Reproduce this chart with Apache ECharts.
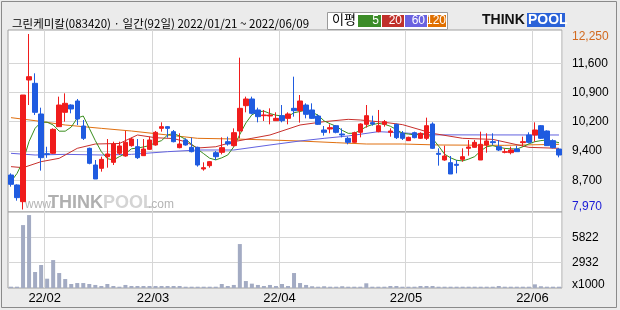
<!DOCTYPE html>
<html><head><meta charset="utf-8">
<script src="https://cdn.jsdelivr.net/npm/echarts@6/dist/echarts.min.js"></script>
<style>html,body{margin:0;padding:0;background:#ebebeb}#c{width:620px;height:310px}</style>
</head><body><div id="c"></div>
<script>
// ---- data ----
const dates = ['01/21','01/24','01/25','01/26','01/27','01/28',
'02/03','02/04','02/07','02/08','02/09','02/10','02/11','02/14','02/15','02/16','02/17','02/18','02/21','02/22','02/23','02/24','02/25','02/28',
'03/02','03/03','03/04','03/07','03/08','03/10','03/11','03/14','03/15','03/16','03/17','03/18','03/21','03/22','03/23','03/24','03/25','03/28','03/29','03/30','03/31',
'04/01','04/04','04/05','04/06','04/07','04/08','04/11','04/12','04/13','04/14','04/15','04/18','04/19','04/20','04/21','04/22','04/25','04/26','04/27','04/28','04/29',
'05/02','05/03','05/04','05/06','05/09','05/10','05/11','05/12','05/13','05/16','05/17','05/18','05/19','05/20','05/23','05/24','05/25','05/26','05/27','05/30','05/31',
'06/02','06/03','06/07','06/08','06/09'];
const opens = [8811,8568,8161,11128,11047,10299,9332,9340,9990,10340,10518,10616,10006,9462,9055,8974,9258,9120,9340,9275,
9527,9502,9283,9437,9543,9949,9990,9868,9478,9665,9486,9486,8958,9039,9356,9364,9624,9527,9884,10502,
10665,10397,10258,10250,10136,10258,10193,10437,10380,10518,10397,10250,9909,9933,10014,9811,9706,9608,9852,10047,
10088,9868,10047,9852,10047,9827,9649,9844,9706,9706,10055,9340,9177,9112,9072,9193,9462,9486,9177,9543,
9624,9502,9364,9356,9445,9600,9787,9787,10014,9884,9649,9445];
const closes = [8584,8259,10762,11209,10340,9234,9310,9925,10518,10559,10421,10177,9706,9096,8714,9193,9324,9567,9519,9608,
9689,9234,9445,9665,9852,9990,9949,9624,9567,9543,9380,9055,8990,9137,9258,9478,9567,9844,10437,10665,
10315,10234,10275,10275,10193,10136,10299,10380,10616,10291,10193,10047,9852,9966,9852,9787,9608,9844,10055,10258,
10055,10014,10112,9884,9722,9706,9730,9722,9827,10014,9462,9315,9275,8836,9047,9258,9494,9608,9559,9641,
9600,9421,9380,9421,9380,9624,9608,9909,9706,9527,9478,9299];
const lows = [8527,8185,7970,10518,10275,8917,9230,9324,9990,10112,10316,10031,9665,9072,8714,8893,8990,9055,9299,9258,
9502,9202,9275,9421,9527,9868,9722,9608,9462,9527,9364,9015,8917,8990,9177,9315,9527,9502,9706,10340,
10291,10096,10128,10047,10128,10096,10047,10234,10088,10193,10177,10031,9771,9828,9828,9730,9559,9600,9730,9966,
10014,9852,9990,9746,9689,9665,9641,9706,9689,9665,9445,9039,9160,8836,8852,9137,9283,9478,9177,9356,
9543,9397,9340,9315,9372,9502,9583,9624,9689,9519,9462,9242];
const highs = [8852,8584,10762,12250,11291,10453,9500,9949,10722,10803,10535,10665,10153,9478,9177,9258,9689,9624,9624,9885,
9722,9689,9689,9746,9885,10096,10006,9909,9828,9706,9722,9502,9120,9153,9397,9730,9746,9949,11673,10722,
10722,10453,10397,10437,10340,10518,10340,11209,10762,10559,10559,10291,10006,10047,10031,9949,9746,9868,10071,10518,
10258,10397,10153,9949,10063,9884,9746,9868,9852,10210,10096,9462,9527,9275,9177,9462,9665,9665,9868,9828,
9828,9665,9462,9502,9527,9746,9852,10096,10030,9900,9681,9462];
const volumes = [150,150,7230,8380,1840,2640,1070,3210,1720,1030,460,570,570,460,350,230,460,230,150,350,
230,230,230,230,230,230,230,230,230,150,150,150,150,150,150,460,230,350,5050,800,
500,350,230,350,230,460,230,1720,570,350,200,150,200,150,150,200,150,150,150,540,
150,150,150,230,230,150,150,150,230,230,230,150,150,150,150,150,150,150,150,150,
150,230,150,150,150,150,150,420,200,150,150,150];
const ma5 = [8650,8850,9150,9630,9950,10100,10100,10031,9880,9880,9980,10200,10250,9950,9650,9380,9210,9177,9260,9330,
9450,9470,9495,9530,9600,9650,9787,9827,9760,9680,9560,9440,9330,9220,9180,9230,9300,9500,9800,10080,
10280,10350,10370,10310,10270,10250,10240,10330,10360,10397,10340,10270,10130,10060,10000,9900,9827,9830,9900,9990,
10040,10070,10050,10000,9920,9830,9810,9790,9800,9827,9700,9520,9320,9230,9170,9155,9200,9260,9400,9500,
9527,9490,9460,9450,9445,9500,9570,9624,9650,9665,9630,9600];
const ma20 = [[0,9015],[2,8990],[5,9137],[8,9218],[11,9462],[14,9567],[18,9580],[21,9787],[24,9720],[27,9700],[29,9620],[31,9470],
[34,9500],[37,9624],[40,9706],[43,9787],[48,10031],[52,10112],[56,10169],[58,10153],[62,10096],[65,10040],[70,9827],[75,9706],[80,9680],[86,9486],[91,9462]];
const ma60 = [[0,9340],[4,9299],[9,9315],[15,9299],[20,9315],[26,9380],[31,9421],[37,9421],[43,9543],[48,9641],[52,9706],[56,9763],[61,9868],[65,9840],[70,9790],[91,9787]];
const ma120 = [[0,10210],[4,10136],[9,10031],[15,9949],[20,9884],[26,9787],[31,9706],[37,9690],[43,9665],[48,9640],[54,9600],[59,9567],[65,9567],[71,9543],[82,9535],[91,9560]];
const priceTickValues = [7970, 8683, 9397, 10110, 10823, 11537, 12250];
const priceTickLabels = ['7,970','8,700','9,400','10,200','10,900','11,600','12,250'];
const volTickValues = [0, 2932, 5822];
const volTickLabels = ['x1000','2932','5822'];
const monthStarts = ['02/03','03/02','04/01','05/02','06/02'];
const monthLabels = ['22/02','22/03','22/04','22/05','22/06'];
const title = '그린케미칼(083420) · 일간(92일) 2022/01/21 ~ 2022/06/09';

// ---- chart ----
const candles = dates.map((d,i)=>[opens[i],closes[i],lows[i],highs[i]]);
const chart = echarts.init(document.getElementById('c'), null, {renderer:'canvas'});
const FONT = 'Liberation Sans, Arial, sans-serif';
const isMonth = (i)=> monthStarts.indexOf(dates[i]) >= 0;
const gridLineStyle = {color:'#d6d6d6', width:1};

chart.setOption({
  animation:false,
  backgroundColor:'#ebebeb',
  title:{text:title,left:7,top:13,textStyle:{fontSize:11.5,fontWeight:'normal',color:'#000',fontFamily:'Noto Sans CJK KR'}},
  grid:[
    {left:8,top:30,width:554,height:182,show:true,backgroundColor:'#fff',borderColor:'#a0a0a0',borderWidth:1},
    {left:8,top:212,width:554,height:76,show:true,backgroundColor:'#fff',borderColor:'#a0a0a0',borderWidth:1}
  ],
  xAxis:[
    {type:'category',gridIndex:0,data:dates,boundaryGap:true,axisLine:{show:false},axisTick:{show:false},axisLabel:{show:false},
     splitLine:{show:true,interval:(i)=>isMonth(i),lineStyle:gridLineStyle}},
    {type:'category',gridIndex:1,data:dates,boundaryGap:true,axisLine:{show:false},axisTick:{show:false},
     splitLine:{show:true,interval:(i)=>isMonth(i),lineStyle:gridLineStyle},
     axisLabel:{show:true,interval:(i)=>isMonth(i),margin:4,fontSize:13,color:'#000',fontFamily:FONT,
       formatter:(v)=>'{d|'+monthLabels[monthStarts.indexOf(v)]+'}',
       rich:{d:{fontSize:13,color:'#000',fontFamily:FONT,padding:[0,5,0,0]}}}}
  ],
  yAxis:[
    {type:'value',gridIndex:0,position:'right',min:7909,max:12347.5,
     axisLine:{show:false},
     axisTick:{show:false,customValues:priceTickValues.slice(1,-1)},
     splitLine:{show:true,lineStyle:gridLineStyle},
     axisLabel:{show:true,customValues:priceTickValues,margin:10,fontSize:12,color:'#000',fontFamily:FONT,
       formatter:(v)=>{let k=0;priceTickValues.forEach((t,j)=>{if(Math.abs(t-v)<1)k=j;});
         const s=priceTickLabels[k]; if(k===priceTickValues.length-1) return '{hi|'+s+'}'; if(k===0) return '{lo|'+s+'}'; return s;},
       rich:{hi:{color:'#d2691e',fontSize:12,fontFamily:FONT,padding:[5,0,0,0]},lo:{color:'#1a1ad6',fontSize:12,fontFamily:FONT,padding:[0,0,5,0]}}}},
    {type:'value',gridIndex:1,position:'right',min:0,max:8733,
     axisLine:{show:false},
     axisTick:{show:false,customValues:volTickValues.slice(1)},
     splitLine:{show:true,lineStyle:gridLineStyle},
     axisLabel:{show:true,customValues:volTickValues,margin:10,fontSize:12,color:'#000',fontFamily:'Liberation Sans Narrow, Liberation Sans, sans-serif',
       formatter:(v)=>{let k=0;volTickValues.forEach((t,j)=>{if(Math.abs(t-v)<1)k=j;}); return k===0?'{b|'+volTickLabels[0]+'}':volTickLabels[k];},
       rich:{b:{fontSize:12,color:'#000',fontFamily:'Liberation Sans Narrow, Liberation Sans, sans-serif',padding:[0,0,6,0]}}}}
  ],
  series:[
    {type:'line',xAxisIndex:0,yAxisIndex:0,data:ma120,symbol:'none',lineStyle:{color:'#e07010',width:1},z:2},
    {type:'line',xAxisIndex:0,yAxisIndex:0,data:ma60,symbol:'none',lineStyle:{color:'#6262e0',width:1},z:2},
    {type:'line',xAxisIndex:0,yAxisIndex:0,data:ma20,symbol:'none',lineStyle:{color:'#c8302c',width:1},z:2},
    {type:'line',xAxisIndex:0,yAxisIndex:0,data:ma5,symbol:'none',lineStyle:{color:'#3a8e1e',width:1},z:3},
    {type:'candlestick',xAxisIndex:0,yAxisIndex:0,data:candles,barWidth:5,z:5,
     itemStyle:{color:'#f01c1c',color0:'#1f5be0',borderColor:'#f01c1c',borderColor0:'#1f5be0',borderWidth:1}},
    {type:'bar',xAxisIndex:1,yAxisIndex:1,data:volumes,barWidth:4,itemStyle:{color:'#a3abc3'}}
  ],
  graphic:[
    {type:'rect',shape:{x:1.5,y:1.5,width:615,height:306},style:{fill:'none',stroke:'#8a8a8a',lineWidth:1},silent:true,z:100},
    // watermark
    {type:'text',left:25,top:199,style:{text:'www.',fontSize:12,fill:'#b4b4b4',fontFamily:FONT},z:1},
    {type:'text',left:48,top:194,style:{text:'THINK',fontSize:18,fontWeight:'bold',fill:'#b0b0b0',fontFamily:FONT},z:1},
    {type:'text',left:103,top:194,style:{text:'POOL',fontSize:18,fontWeight:'bold',fill:'#d4d4d4',fontFamily:FONT},z:1},
    {type:'text',left:148,top:199,style:{text:'.com',fontSize:12,fill:'#b4b4b4',fontFamily:FONT},z:1},
    // legend box
    {type:'rect',shape:{x:327.5,y:12.5,width:120,height:17},style:{fill:'#fff',stroke:'#9a9a9a',lineWidth:1},z:10},
    {type:'text',left:332,top:13,style:{text:'이평',fontSize:13,fill:'#000',fontFamily:'Noto Sans CJK KR'},z:11},
    {type:'rect',shape:{x:358,y:15,width:23,height:12},style:{fill:'#3c8c28'},z:11},
    {type:'text',right:620-379,top:14.5,style:{text:'5',fontSize:12,fill:'#fff',fontFamily:FONT},z:12},
    {type:'rect',shape:{x:382,y:15,width:22,height:12},style:{fill:'#c0302a'},z:11},
    {type:'text',right:620-402,top:14.5,style:{text:'20',fontSize:12,fill:'#fff',fontFamily:FONT},z:12},
    {type:'rect',shape:{x:405,y:15,width:22,height:12},style:{fill:'#6a62e0'},z:11},
    {type:'text',right:620-425,top:14.5,style:{text:'60',fontSize:12,fill:'#fff',fontFamily:FONT},z:12},
    {type:'rect',shape:{x:428,y:15,width:18,height:12},style:{fill:'#e07000'},z:11},
    {type:'text',right:620-446,top:14.5,style:{text:'120',fontSize:12,fill:'#fff',fontFamily:FONT},z:12},
    // logo
    {type:'text',left:482,top:13,style:{text:'THINK',fontSize:14,fontWeight:'bold',fill:'#111',fontFamily:FONT},z:11},
    {type:'rect',shape:{x:527,y:13,width:38,height:14},style:{fill:'#2a62d8'},z:11},
    {type:'text',left:528,top:13,style:{text:'POOL',fontSize:14,fontWeight:'bold',fill:'#fff',fontFamily:FONT},z:12}
  ]
});
</script></body></html>
